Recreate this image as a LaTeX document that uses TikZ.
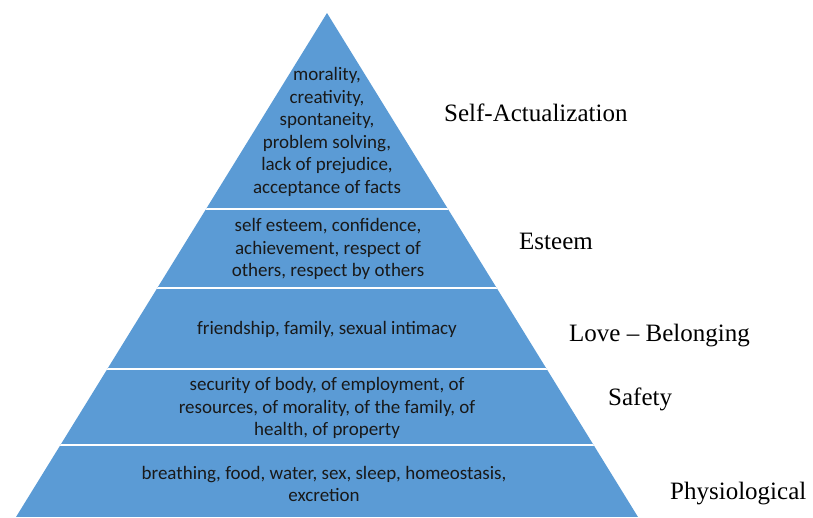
\documentclass[tikz,border=0pt]{standalone}
\usepackage{fontspec}
\setmainfont{Liberation Serif}
\newfontfamily\bandfont{Carlito}
\usepackage{xcolor}
\definecolor{pyrblue}{HTML}{5B9BD5}
\usetikzlibrary{calc}

\tikzset{
  band/.style={align=center, text=black!90, inner sep=0pt,
    font=\bandfont\fontsize{19}{22.6}\selectfont},
  level/.style={anchor=west, inner sep=0pt, font=\fontsize{25}{30}\selectfont},
  gap/.style={white, line width=2pt}
}

\begin{document}
\begin{tikzpicture}[x=1pt,y=-1pt]
    \useasboundingbox (0,0) rectangle (813,517);

    % Pyramid body with white gaps between levels
    \begin{scope}
        \clip (327,13) -- (16,517) -- (638,517) -- cycle;
        \fill[pyrblue] (0,0) rectangle (700,517);
        \foreach \yy in {209,288,369,445}
            \draw[gap] (0,\yy) -- (700,\yy);
    \end{scope}

    % Texts inside the levels
    \node[band] (selfact) at (327,132) {morality,\\creativity,\\spontaneity,\\problem solving,\\lack of prejudice,\\acceptance of facts};
    \node[band] (esteem) at (328,249) {self esteem, confidence,\\achievement, respect of\\others, respect by others};
    \node[band] (love) at (327,329) {friendship, family, sexual intimacy};
    \node[band] (safety) at (327,408) {security of body, of employment, of\\resources, of morality, of the family, of\\health, of property};
    \node[band] (physio) at (324,484) {breathing, food, water, sex, sleep, homeostasis,\\excretion};

    % Level names on the right
    \node[level] (selfactname) at (444,113) {Self-Actualization};
    \node[level] (esteemname) at (519,241) {Esteem};
    \node[level] (lovename) at (569,336) {Love – Belonging};
    \node[level] (safetyname) at (608,399) {Safety};
    \node[level] (physioname) at (670,494) {Physiological};
\end{tikzpicture}
\end{document}
